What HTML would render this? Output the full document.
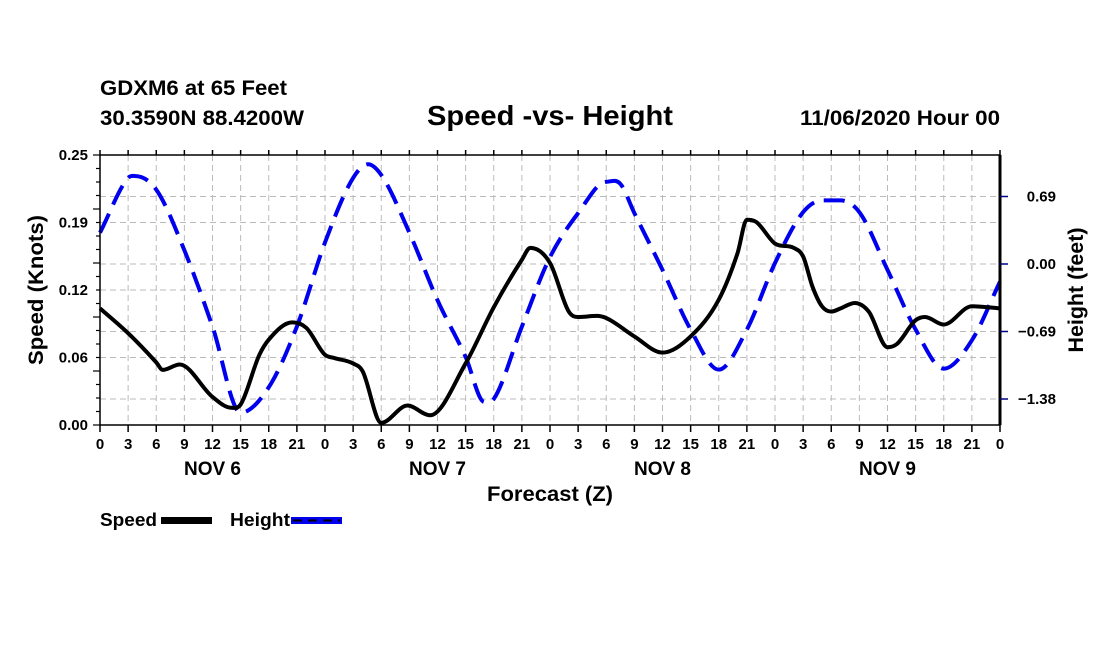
<!DOCTYPE html>
<html><head><meta charset="utf-8"><style>
html,body{margin:0;padding:0;background:#fff;}
svg{display:block;font-family:"Liberation Sans",Arial,sans-serif;font-weight:bold;}
</style></head><body>
<svg id="chart" width="1100" height="650" viewBox="0 0 1100 650" xmlns="http://www.w3.org/2000/svg">
<rect width="1100" height="650" fill="#fff"/>
<text x="100" y="95" font-size="21" textLength="187" lengthAdjust="spacingAndGlyphs">GDXM6 at 65 Feet</text>
<text x="100" y="125" font-size="21" textLength="204" lengthAdjust="spacingAndGlyphs">30.3590N 88.4200W</text>
<text x="550" y="125" font-size="28" text-anchor="middle" textLength="246" lengthAdjust="spacingAndGlyphs">Speed -vs- Height</text>
<text x="1000" y="125" font-size="21" text-anchor="end" textLength="200" lengthAdjust="spacingAndGlyphs">11/06/2020 Hour 00</text>
<g id="grid"></g>
<g id="series"></g>
<g id="axes"></g>
<text x="550" y="501" font-size="21" text-anchor="middle" textLength="126" lengthAdjust="spacingAndGlyphs">Forecast (Z)</text>
<text transform="translate(43,290) rotate(-90)" font-size="21" text-anchor="middle" textLength="150" lengthAdjust="spacingAndGlyphs">Speed (Knots)</text>
<text transform="translate(1083,290) rotate(-90)" font-size="21" text-anchor="middle" textLength="125" lengthAdjust="spacingAndGlyphs">Height (feet)</text>
<g>
<text x="100" y="526" font-size="18" textLength="57" lengthAdjust="spacingAndGlyphs">Speed</text>
<rect x="161" y="517" width="51" height="7" fill="#000"/>
<text x="230" y="526" font-size="18" textLength="60" lengthAdjust="spacingAndGlyphs">Height</text>
<rect x="291" y="517" width="51" height="7" fill="#0000ee"/>
<line x1="293" y1="520.5" x2="340" y2="520.5" stroke="#000" stroke-width="2" stroke-dasharray="9,6"/>
</g>
</svg>
<script>
const speedHours = [0,3,6,6.7,8.5,12,14,15,17,18,20.5,22,24,25,27,28,30,32.8,35.2,39,42,45,45.9,48,50,51,53,54,57,60,63,66,68,69,70,72,74,75,76,77,78,79,80.5,82,84,85,87,88,90,93,96];
const speedValues = [0.108,0.085,0.058,0.051,0.056,0.026,0.016,0.019,0.065,0.079,0.095,0.09,0.065,0.062,0.057,0.05,0.002,0.018,0.009,0.057,0.109,0.153,0.164,0.150,0.105,0.100,0.101,0.099,0.082,0.067,0.082,0.116,0.159,0.19,0.188,0.168,0.164,0.156,0.128,0.11,0.105,0.108,0.113,0.105,0.072,0.075,0.097,0.1,0.093,0.11,0.108];
const heightHours = [0,3,3.7,6,9,12,15,18,21,24,27,28.6,30,33,36,39,41,42,45,48,51,54,55.5,57,60,63,66,69,72,75,77,79,81,84,87,90,93,96];
const heightValues = [0.32,0.88,0.9,0.76,0.14,-0.64,-1.52,-1.26,-0.64,0.22,0.88,1.02,0.91,0.32,-0.37,-0.95,-1.41,-1.38,-0.64,0.07,0.52,0.84,0.82,0.52,-0.06,-0.67,-1.08,-0.67,0.01,0.53,0.65,0.65,0.53,-0.06,-0.67,-1.07,-0.78,-0.18];
const xTickLabels = ["0","3","6","9","12","15","18","21"];
const dayLabels = ["NOV 6","NOV 7","NOV 8","NOV 9"];
const leftTicks = [0,0.0625,0.125,0.1875,0.25];
const leftTickLabels = ["0.00","0.06","0.12","0.19","0.25"];
const rightTicks = [0.69,0,-0.69,-1.38];
const rightTickLabels = ["0.69","0.00","-0.69","-1.38"];

const L=100,R=1000,T=155,B=425;
const xS=h=>L+(h/96)*(R-L);
const yS=v=>B-(v/0.25)*(B-T);
const yH=v=>264-(v/0.69)*67.5;
const NS="http://www.w3.org/2000/svg";
function mk(tag,parent,attrs){const e=document.createElementNS(NS,tag);for(const k in attrs)e.setAttribute(k,attrs[k]);parent.appendChild(e);return e;}
const grid=document.getElementById('grid'),axes=document.getElementById('axes'),series=document.getElementById('series');

for(let h=3;h<96;h+=3){
  const g=mk('line',grid,{x1:xS(h),x2:xS(h),y1:T,y2:B,stroke:'#bbb','stroke-dasharray':'6,4'});
  
  
}
leftTicks.slice(1,-1).forEach(v=>{
  const g=mk('line',grid,{x1:L,x2:R,y1:yS(v),y2:yS(v),stroke:'#bbb','stroke-dasharray':'6,4'});
  
  
});
rightTicks.forEach(v=>{
  const g=mk('line',grid,{x1:L,x2:R,y1:yH(v),y2:yH(v),stroke:'#bbb','stroke-dasharray':'6,4'});
  
  
});

function smoothPath(xs,ys){
  const n=xs.length, m=[];
  const d=[];for(let i=0;i<n-1;i++)d.push((ys[i+1]-ys[i])/(xs[i+1]-xs[i]));
  for(let i=0;i<n;i++){
    if(i===0)m.push(d[0]);else if(i===n-1)m.push(d[n-2]);
    else m.push(d[i-1]*d[i]<=0?0:(d[i-1]+d[i])/2);
  }
  let p=`M${xs[0]},${ys[0]}`;
  for(let i=0;i<n-1;i++){
    const h=xs[i+1]-xs[i];
    p+=` C${xs[i]+h/3},${ys[i]+m[i]*h/3} ${xs[i+1]-h/3},${ys[i+1]-m[i+1]*h/3} ${xs[i+1]},${ys[i+1]}`;
  }
  return p;
}
const hp=mk('path',series,{d:smoothPath(heightHours.map(xS),heightValues.map(yH)),fill:'none',stroke:'#0000ee','stroke-width':4,'stroke-dasharray':'21,10'});


const sp=mk('path',series,{d:smoothPath(speedHours.map(xS),speedValues.map(yS)),fill:'none',stroke:'#000','stroke-width':4,'stroke-linejoin':'round'});



const fr=mk('rect',axes,{x:L,y:T,width:R-L,height:B-T,fill:'none',stroke:'#000','stroke-width':1.5});


const rb=mk('line',axes,{x1:R,x2:R,y1:T,y2:B,stroke:'#000','stroke-width':3});



for(let h=0;h<=96;h+=3){
  const x=xS(h);
  mk('line',axes,{x1:x,x2:x,y1:B,y2:B+7,stroke:'#000','stroke-width':1.5});
  mk('line',axes,{x1:x,x2:x,y1:T,y2:T-5,stroke:'#000','stroke-width':1.5});
  const t=mk('text',axes,{x:x,y:B+24,'font-size':15,'text-anchor':'middle'});
  t.textContent=xTickLabels[(h/3)%8];
  
  
}
dayLabels.forEach((lab,i)=>{
  const t=mk('text',axes,{x:xS(i*24+12),y:B+50,'font-size':19,'text-anchor':'middle'});
  t.textContent=lab;
  
  
});
for(let k=0;k<=20;k++){
  const y=T+k*(B-T)/20;
  mk('line',axes,{x1:L-(k%4===0?7:4),x2:L,y1:y,y2:y,stroke:'#000','stroke-width':1.2});
}
leftTicks.forEach((v,i)=>{
  const t=mk('text',axes,{x:L-12,y:yS(v)+5,'font-size':15,'text-anchor':'end'});
  t.textContent=leftTickLabels[i];
  
  
});
rightTicks.forEach((v,i)=>{
  mk('line',axes,{x1:R,x2:R+8,y1:yH(v),y2:yH(v),stroke:'#000080','stroke-width':1.5});
  const t=mk('text',axes,{x:R+56,y:yH(v)+5,'font-size':15,'text-anchor':'end'});
  t.textContent=rightTickLabels[i].replace('-','\u2212');
  
  
});
</script>
</body></html>
